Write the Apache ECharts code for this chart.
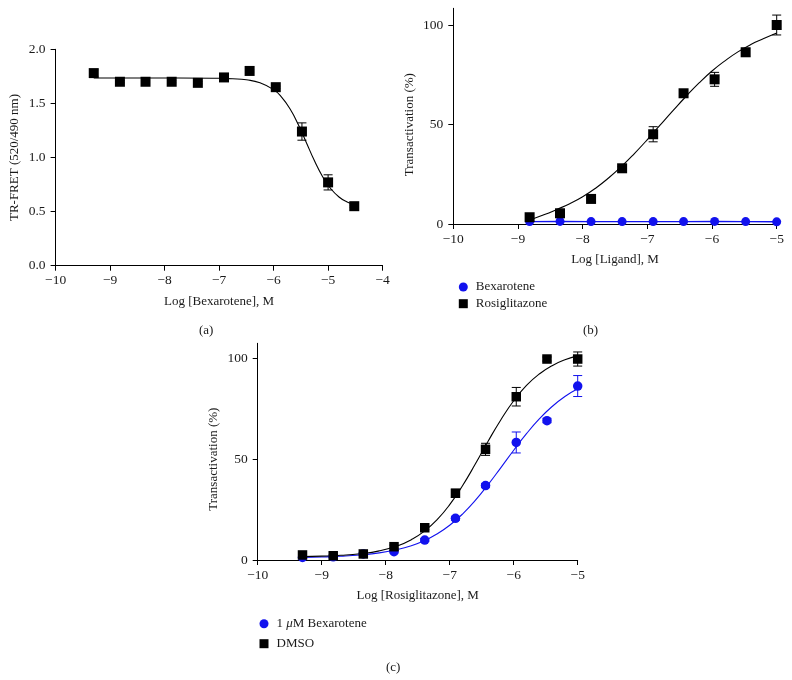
<!DOCTYPE html>
<html>
<head>
<meta charset="utf-8">
<script src="https://cdn.jsdelivr.net/npm/echarts@6/dist/echarts.min.js"></script>
<style>
html,body{margin:0;padding:0;background:#fff;}
#chart{width:792px;height:680px;}
</style>
</head>
<body>
<div id="chart"></div>
<script>
// ---------- Panel (a): TR-FRET vs Log [Bexarotene] ----------
const xA = [-9.30, -8.82, -8.35, -7.87, -7.39, -6.91, -6.44, -5.96, -5.48, -5.00, -4.52];
const yA = [1.78, 1.70, 1.70, 1.70, 1.69, 1.74, 1.80, 1.65, 1.24, 0.77, 0.55];
const errA = [0.03, 0.01, 0.01, 0.01, 0.01, 0.01, 0.01, 0.01, 0.08, 0.07, 0.01];
const fitXA = [-9.3, -8.5, -7.75, -7.0, -6.75, -6.5, -6.25, -6.0, -5.85, -5.7, -5.55, -5.4, -5.25, -5.1, -4.95, -4.8, -4.65, -4.52];
const fitYA = [1.735, 1.735, 1.735, 1.732, 1.728, 1.718, 1.691, 1.627, 1.556, 1.450, 1.308, 1.139, 0.969, 0.822, 0.711, 0.635, 0.588, 0.562];
const xTicksA = [-10, -9, -8, -7, -6, -5, -4];
const yTicksA = [0, 0.5, 1.0, 1.5, 2.0];

// ---------- Panel (b): Transactivation vs Log [Ligand] ----------
const xB = [-8.82, -8.35, -7.87, -7.39, -6.91, -6.44, -5.96, -5.48, -5.00];
const rosiB = [3.4, 5.4, 12.6, 28.0, 45.1, 65.7, 72.7, 86.3, 100.0];
const rosiErrB = [0.5, 0.5, 0.5, 0.8, 3.8, 1.5, 3.5, 2.0, 5.0];
const bexB = [1.2, 1.3, 1.2, 1.2, 1.2, 1.2, 1.3, 1.2, 1.1];
const fitXB = [-8.82, -8.6, -8.4, -8.2, -8.0, -7.8, -7.6, -7.4, -7.2, -7.0, -6.8, -6.6, -6.4, -6.2, -6.0, -5.8, -5.6, -5.4, -5.2, -5.0];
const fitYB = [2.0, 4.6, 7.3, 10.2, 13.7, 18.0, 23.1, 28.9, 35.4, 42.4, 49.8, 57.1, 64.2, 70.9, 76.9, 82.0, 86.5, 90.2, 93.2, 96.0];
const xTicksB = [-10, -9, -8, -7, -6, -5];
const yTicksB = [0, 50, 100];

// ---------- Panel (c): Transactivation vs Log [Rosiglitazone] ----------
const xC = [-9.30, -8.82, -8.35, -7.87, -7.39, -6.91, -6.44, -5.96, -5.48, -5.00];
const dmsoC = [2.5, 2.1, 3.0, 6.6, 16.0, 33.1, 54.9, 81.0, 99.7, 99.7];
const dmsoErrC = [0.5, 0.5, 0.5, 0.8, 1.0, 2.0, 3.0, 4.6, 1.0, 3.5];
const bexC = [1.3, 1.6, 3.0, 4.1, 9.9, 20.7, 36.9, 58.3, 69.1, 86.3];
const bexErrC = [0.3, 0.3, 0.3, 0.5, 0.8, 1.0, 1.0, 5.2, 1.0, 5.2];
const fitXC = [-9.3, -9.0, -8.7, -8.4, -8.1, -7.8, -7.6, -7.4, -7.2, -7.0, -6.8, -6.6, -6.4, -6.2, -6.0, -5.8, -5.6, -5.4, -5.2, -5.0];
const fitDmsoC = [1.73, 1.94, 2.34, 3.10, 4.54, 7.19, 10.06, 14.18, 19.90, 27.47, 36.85, 47.6, 58.9, 69.6, 79.0, 86.6, 92.3, 96.4, 99.3, 101.25];
const fitBexC = [1.28, 1.49, 1.85, 2.47, 3.52, 5.29, 7.08, 9.55, 12.87, 17.25, 22.8, 29.56, 37.4, 45.85, 54.45, 62.65, 69.96, 76.13, 81.08, 84.9];
const xTicksC = [-10, -9, -8, -7, -6, -5];
const yTicksC = [0, 50, 100];

// ---------- Styling ----------
const FONT = 'Liberation Serif';
const TXT = '#1a1a1a';
const BLACK = '#000000';
const BLUE = '#1212ee';

const pairs = (xs, ys) => xs.map((x, i) => [x, ys[i]]);
const triples = (xs, ys, es) => xs.map((x, i) => [x, ys[i], es[i]]);
const minusFmt = v => (v < 0 ? '\u2212' + Math.abs(v) : String(v));

function xAxisDef(gi, min, max, ticks, name, gap) {
  return {
    type: 'value', gridIndex: gi, min: min, max: max, interval: 1,
    name: name, nameLocation: 'middle', nameGap: gap,
    nameTextStyle: {fontFamily: FONT, fontSize: 13, color: TXT},
    axisLine: {show: true, onZero: false, lineStyle: {color: BLACK, width: 1}},
    axisTick: {show: true, length: 5, lineStyle: {color: BLACK, width: 1}, customValues: ticks},
    axisLabel: {fontFamily: FONT, fontSize: 13.5, color: TXT, margin: 8, formatter: minusFmt, customValues: ticks},
    splitLine: {show: false}
  };
}
function yAxisDef(gi, min, max, ticks, fmt, name, gap, pad) {
  return {
    type: 'value', gridIndex: gi, min: min, max: max,
    name: name, nameLocation: 'middle', nameGap: gap,
    nameTextStyle: {fontFamily: FONT, fontSize: 13, color: TXT, padding: [0, pad, 0, 0]},
    axisLine: {show: true, onZero: false, lineStyle: {color: BLACK, width: 1}},
    axisTick: {show: true, length: 5, lineStyle: {color: BLACK, width: 1}, customValues: ticks},
    axisLabel: {fontFamily: FONT, fontSize: 13.5, color: TXT, margin: 10, formatter: fmt, customValues: ticks},
    splitLine: {show: false}
  };
}
function errSeries(gi, name, data, color) {
  return {
    type: 'custom', name: name, xAxisIndex: gi, yAxisIndex: gi, z: 3,
    data: data, encode: {x: 0, y: 1}, silent: true,
    renderItem: function (params, api) {
      const x = api.value(0), y = api.value(1), e = api.value(2);
      const t = api.coord([x, y + e]);
      const b = api.coord([x, y - e]);
      const w = 4.5;
      const st = {stroke: color, lineWidth: 1};
      return {type: 'group', children: [
        {type: 'line', shape: {x1: t[0], y1: t[1], x2: b[0], y2: b[1]}, style: st},
        {type: 'line', shape: {x1: t[0] - w, y1: t[1], x2: t[0] + w, y2: t[1]}, style: st},
        {type: 'line', shape: {x1: b[0] - w, y1: b[1], x2: b[0] + w, y2: b[1]}, style: st}
      ]};
    }
  };
}
function fitSeries(gi, name, data, color) {
  return {
    type: 'line', name: name, xAxisIndex: gi, yAxisIndex: gi, z: 2,
    data: data, smooth: true, showSymbol: false, symbol: 'none',
    lineStyle: {color: color, width: 1.1}, silent: true
  };
}

const chart = echarts.init(document.getElementById('chart'), null, {renderer: 'canvas'});
const option = {
  backgroundColor: '#ffffff',
  animation: false,
  textStyle: {fontFamily: FONT},
  grid: [
    {left: 55.6, top: 49.3, width: 327, height: 216.4, outerBoundsMode: 'none'},
    {left: 453.3, top: 8.3, width: 323.4, height: 215.7, outerBoundsMode: 'none'},
    {left: 257.7, top: 343.3, width: 320, height: 216.7, outerBoundsMode: 'none'}
  ],
  xAxis: [
    xAxisDef(0, -10, -4, xTicksA, 'Log [Bexarotene], M', 29),
    xAxisDef(1, -10, -5, xTicksB, 'Log [Ligand], M', 29.5),
    xAxisDef(2, -10, -5, xTicksC, 'Log [Rosiglitazone], M', 29)
  ],
  yAxis: [
    yAxisDef(0, 0, 2, yTicksA, v => v.toFixed(1), 'TR-FRET (520/490 nm)', 35, 0),
    yAxisDef(1, 0, 108.4, yTicksB, v => String(v), 'Transactivation (%)', 37, 17),
    yAxisDef(2, 0, 107.5, yTicksC, v => String(v), 'Transactivation (%)', 37.5, 15)
  ],
  legend: [
    {
      orient: 'vertical', left: 453.8, top: 275, itemWidth: 9, itemHeight: 9, itemGap: 2.7,
      textStyle: {fontFamily: FONT, fontSize: 13, color: TXT, lineHeight: 14, padding: [0, 0, 0, 3]},
      data: [{name: 'Bexarotene', icon: 'circle'}, {name: 'Rosiglitazone', icon: 'rect'}],
      selectedMode: false
    },
    {
      orient: 'vertical', left: 254.5, top: 611.7, itemWidth: 9, itemHeight: 9, itemGap: 6,
      textStyle: {fontFamily: FONT, fontSize: 13, color: TXT, lineHeight: 14, padding: [0, 0, 0, 3],
        rich: {i: {fontFamily: FONT, fontSize: 13, fontStyle: 'italic', color: TXT}}},
      formatter: function (n) { return n.replace('\u03bc', '{i|\u03bc}'); },
      data: [{name: '1 \u03bcM Bexarotene', icon: 'circle'}, {name: 'DMSO', icon: 'rect'}],
      selectedMode: false
    }
  ],
  graphic: [
    {type: 'text', left: 199, top: 324, style: {text: '(a)', font: '13px "Liberation Serif"', fill: TXT}},
    {type: 'text', left: 583, top: 324, style: {text: '(b)', font: '13px "Liberation Serif"', fill: TXT}},
    {type: 'text', left: 386, top: 661, style: {text: '(c)', font: '13px "Liberation Serif"', fill: TXT}}
  ],
  series: [
    // (a)
    fitSeries(0, 'fitA', pairs(fitXA, fitYA), BLACK),
    errSeries(0, 'errA', triples(xA, yA, errA), BLACK),
    {type: 'scatter', name: 'TR-FRET', xAxisIndex: 0, yAxisIndex: 0, z: 4, symbol: 'rect', symbolSize: 10,
      itemStyle: {color: BLACK, opacity: 1}, data: pairs(xA, yA)},
    // (b)
    fitSeries(1, 'fitB', pairs(fitXB, fitYB), BLACK),
    errSeries(1, 'errB', triples(xB, rosiB, rosiErrB), BLACK),
    {type: 'line', name: 'Bexarotene', xAxisIndex: 1, yAxisIndex: 1, z: 4, symbol: 'circle', symbolSize: 9,
      showSymbol: true, lineStyle: {color: BLUE, width: 1.4}, itemStyle: {color: BLUE, opacity: 1}, data: pairs(xB, bexB)},
    {type: 'scatter', name: 'Rosiglitazone', xAxisIndex: 1, yAxisIndex: 1, z: 5, symbol: 'rect', symbolSize: 10,
      itemStyle: {color: BLACK, opacity: 1}, data: pairs(xB, rosiB)},
    // (c)
    fitSeries(2, 'fitBexC', pairs(fitXC, fitBexC), BLUE),
    fitSeries(2, 'fitDmsoC', pairs(fitXC, fitDmsoC), BLACK),
    errSeries(2, 'errBexC', triples(xC, bexC, bexErrC), BLUE),
    errSeries(2, 'errDmsoC', triples(xC, dmsoC, dmsoErrC), BLACK),
    {type: 'scatter', name: '1 \u03bcM Bexarotene', xAxisIndex: 2, yAxisIndex: 2, z: 4, symbol: 'circle', symbolSize: 9.5,
      itemStyle: {color: BLUE, opacity: 1}, data: pairs(xC, bexC)},
    {type: 'scatter', name: 'DMSO', xAxisIndex: 2, yAxisIndex: 2, z: 5, symbol: 'rect', symbolSize: 9.5,
      itemStyle: {color: BLACK, opacity: 1}, data: pairs(xC, dmsoC)}
  ]
};
chart.setOption(option);
</script>
</body>
</html>
